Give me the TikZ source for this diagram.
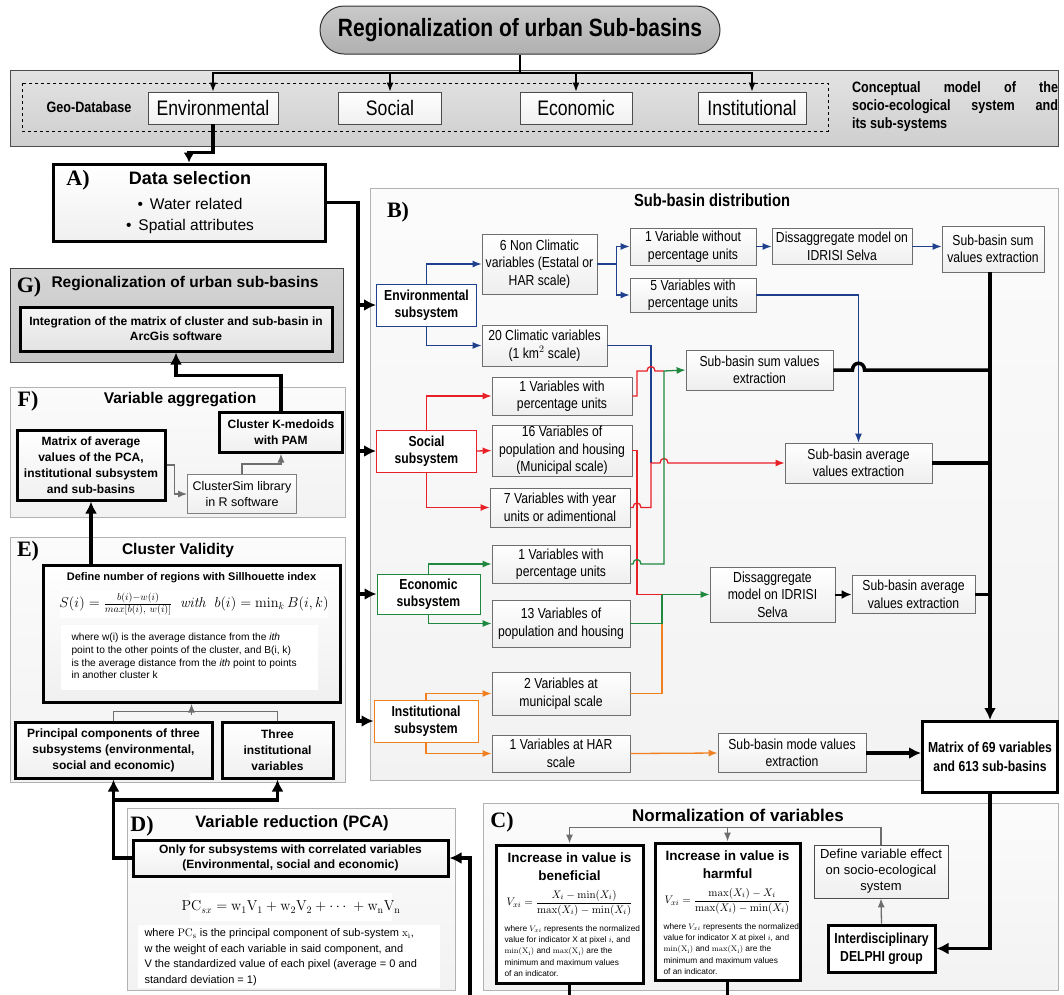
\documentclass[tikz,border=0pt]{standalone}
\usepackage{amsmath}
\usepackage[no-math]{fontspec}
\setmainfont{Liberation Sans}
\newfontfamily\narrowsf[FakeStretch=0.84]{Liberation Sans}
\newfontfamily\labelrm{Liberation Serif}
\usetikzlibrary{arrows.meta}
\definecolor{envblue}{RGB}{31,64,140}
\definecolor{socred}{RGB}{232,32,40}
\definecolor{ecogreen}{RGB}{30,136,62}
\definecolor{insorange}{RGB}{240,128,32}
\definecolor{linegray}{RGB}{110,110,110}
% small and large line hops
\newcommand{\jump}[2]{-- (#1-4,#2) .. controls (#1-4,#2-6) and (#1+4,#2-6) .. (#1+4,#2)}
\newcommand{\bigjump}[2]{-- (#1-6,#2) .. controls (#1-6,#2-9) and (#1+6,#2-9) .. (#1+6,#2)}

\begin{document}
\begin{tikzpicture}[x=1pt, y=-1pt, >={Latex[length=9pt,width=7pt]},
  box/.style={draw=linegray, line width=0.8pt, top color=white, bottom color=gray!13, align=center, inner sep=1pt, font=\narrowsf\fontsize{14.5}{17.5}\selectfont},
  topbox/.style={draw=gray!60!black, line width=0.8pt, top color=white, bottom color=gray!12, minimum height=32pt, font=\narrowsf\fontsize{21}{24}\selectfont},
  subsys/.style={draw=#1, line width=1pt, fill=white, align=center, minimum width=100pt, minimum height=42pt, font=\narrowsf\bfseries\fontsize{14.5}{17}\selectfont},
  heavy/.style={draw=black, line width=3pt, top color=white, bottom color=gray!12, align=center, inner sep=1pt, font=\bfseries\fontsize{12}{16}\selectfont},
  heavyw/.style={heavy, top color=white, bottom color=white},
  panel/.style={draw=gray!60, line width=0.8pt, top color=gray!3, bottom color=gray!10},
  lab/.style={font=\labelrm\bfseries\fontsize{22}{22}\selectfont},
  ttl/.style={font=\bfseries\fontsize{15.5}{18}\selectfont},
  blk/.style={draw=black, line width=3.5pt},
  blkarrow/.style={blk, -{Latex[length=12pt,width=12pt]}},
  kline/.style={draw=black, line width=2pt, -{Latex[length=10pt,width=9pt]}},
  gyline/.style={draw=linegray, line width=1.3pt},
  blline/.style={draw=envblue, line width=1.3pt},
  rdline/.style={draw=socred, line width=1.3pt},
  grline/.style={draw=ecogreen, line width=1.3pt},
  orline/.style={draw=insorange, line width=1.3pt}]
  \useasboundingbox (0,0) rectangle (1064,994);

  % Title and conceptual model
  \draw[top color=gray!22, bottom color=gray!38, draw=gray!60!black, line width=0.8pt] (10,70) rectangle (1058,146);
  \draw[dashed, line width=0.7pt] (22,83) rectangle (828,131);
  \node[draw=black!80, line width=1pt, top color=gray!42, bottom color=gray!62, rounded corners=24pt, minimum width=400pt, minimum height=48pt, font=\narrowsf\bfseries\fontsize{25}{28}\selectfont] (title) at (520,30) {Regionalization of urban Sub-basins};
  \node[font=\narrowsf\bfseries\fontsize{15}{17}\selectfont] (geodb) at (89,107) {Geo-Database};
  \node[topbox, minimum width=130pt] (envT) at (213,108) {Environmental};
  \node[topbox, minimum width=103pt] (socT) at (390,108) {Social};
  \node[topbox, minimum width=112pt] (ecoT) at (576,108) {Economic};
  \node[topbox, minimum width=108pt] (insT) at (752,108) {Institutional};
  \node[text width=206pt, align=justify, font=\narrowsf\bfseries\fontsize{15}{18}\selectfont] (concept) at (955,107) {Conceptual model of the\linebreak socio-ecological system and\linebreak its sub-systems};
  \coordinate (tj) at (520,73);
  \draw[line width=1.3pt] (title.south) -- (tj);
  \foreach \n in {envT,socT,ecoT,insT}
    \draw[line width=1.3pt, ->] (tj) -| (\n.north);

  % A) Data selection
  \node[heavy, minimum width=272pt, minimum height=77pt] (dataA) at (189,202.5) {};
  \node[lab] (labA) at (78,180) {A)};
  \node[font=\bfseries\fontsize{18}{20}\selectfont] (dsel) at (190,178) {Data selection};
  \node[align=center, font=\fontsize{15.5}{21}\selectfont] (dlist) at (190,216) {\textbullet\hspace{7pt}Water related\\\textbullet\hspace{7pt}Spatial attributes};
  \draw[blkarrow, -{Latex[length=10pt,width=11pt]}] (envT.south) -- ++(0,28) -| (dataA.north);

  % G) Regionalization
  \draw[draw=gray!50!black, line width=1pt, top color=gray!33, bottom color=gray!45] (10,268) rectangle (343,362);
  \node[lab] (labG) at (29,287) {G)};
  \node[ttl] (gtitle) at (185,284) {Regionalization of urban sub-basins};
  \node[heavy, minimum width=312pt, minimum height=44pt, top color=gray!8, bottom color=gray!22, font=\bfseries\fontsize{12}{15}\selectfont] (gInt) at (176,329) {Integration of the matrix of cluster and sub-basin in\\ArcGis software};

  % F) Variable aggregation
  \draw[panel] (10,387) rectangle (345,517);
  \node[lab] (labF) at (28,401) {F)};
  \node[ttl] (ftitle) at (180,400) {Variable aggregation};
  \node[heavy, minimum width=148pt, minimum height=70pt] (fMat) at (91,465) {Matrix of average\\values of the PCA,\\institutional subsystem\\and sub-basins};
  \node[heavy, minimum width=123pt, minimum height=40pt] (fClu) at (281,432) {Cluster K-medoids\\with PAM};
  \node[box, draw=gray, font=\fontsize{12.5}{16}\selectfont, minimum width=109pt, minimum height=39pt] (fSim) at (242,494) {ClusterSim library\\in R software};
  \draw[gyline, ->] (fMat.east) -- ++(8,0) |- (fSim.west);
  \draw[gyline, ->] (fSim.north) -- ++(0,-10) -| (fClu.south);
  \draw[blkarrow] (fClu.north) -- ++(0,-35) -| (gInt.south);

  % E) Cluster validity
  \draw[panel] (10,537) rectangle (345,782);
  \node[lab] (labE) at (28,551) {E)};
  \node[ttl] (etitle) at (178,550) {Cluster Validity};
  \node[heavy, minimum width=297pt, minimum height=137pt] (eSil) at (191.5,633.5) {};
  \node[font=\bfseries\fontsize{11}{13}\selectfont] (esilT) at (191.5,578) {Define number of regions with Sillhouette index};
  \fill[white] (60,590) rectangle (328,618);
  \node[font=\fontsize{14}{16}\selectfont] (eform) at (194,604) {$S(i)=\frac{b(i)-w(i)}{max[b(i),\ w(i)]}\ \ \mathit{with}\ \ b(i)=\min_k B(i,k)$};
  \fill[white] (61,625) rectangle (318,690);
  \node[anchor=west, align=left, font=\fontsize{10.2}{12.7}\selectfont] (etext) at (68,656) {where w(i) is the average distance from the \textit{ith}\\point to the other points of the cluster, and B(i, k)\\is the average distance from the \textit{ith} point to points\\in another cluster k};
  \node[heavy, minimum width=197pt, minimum height=56pt] (ePC) at (113.5,750) {Principal components of three\\subsystems (environmental,\\social and economic)};
  \node[heavy, minimum width=111pt, minimum height=56pt] (eThree) at (277.5,750) {Three\\institutional\\variables};
  \draw[gyline] (ePC.north) -- ++(0,-9) -| (eThree.north);
  \draw[gyline, ->] ([yshift=-11pt]eSil.south) -- (eSil.south);
  \draw[blkarrow] (eSil.north -| fMat.south) -- (fMat.south);

  % D) Variable reduction
  \draw[panel] (127,808) rectangle (455,990);
  \node[lab] (labD) at (142,826) {D)};
  \node[font=\bfseries\fontsize{16.5}{18}\selectfont] (dtitle) at (292,823) {Variable reduction (PCA)};
  \node[heavy, minimum width=315pt, minimum height=36pt, font=\bfseries\fontsize{12}{15}\selectfont] (dOnly) at (290.5,858) {Only for subsystems with correlated variables\\(Environmental, social and economic)};
  \fill[white] (190,893) rectangle (392,921);
  \node[font=\fontsize{14}{16}\selectfont] (dform) at (291,907) {$\mathrm{PC}_{sx}=\mathrm{w}_1\mathrm{V}_1+\mathrm{w}_2\mathrm{V}_2+\cdots\ +\mathrm{w}_{\mathrm{n}}\mathrm{V}_{\mathrm{n}}$};
  \fill[white] (138,925) rectangle (440,988);
  \node[anchor=west, align=left, font=\fontsize{11}{15.5}\selectfont] (dtext) at (141,957) {where $\mathrm{PC_s}$ is the principal component of sub-system $\mathrm{x_i}$,\\w the weight of each variable in said component, and\\V the standardized value of each pixel (average = 0 and\\standard deviation = 1)};
  \coordinate (dj) at (113.5,800);
  \coordinate (offD) at (470,1000);
  \draw[blkarrow] (dOnly.west) -| (ePC.south);
  \draw[blkarrow] (dj) -| (eThree.south);
  \draw[blkarrow] (offD) |- (dOnly.east);

  % C) Normalization
  \draw[panel] (483,803) rectangle (1058,990);
  \node[lab] (labC) at (502,822) {C)};
  \node[font=\bfseries\fontsize{17}{19}\selectfont] (ctitle) at (738,815) {Normalization of variables};
  \node[heavyw, minimum width=147pt, minimum height=138pt] (cBen) at (569.5,914) {};
  \node[heavyw, minimum width=145pt, minimum height=137pt] (cHarm) at (727.5,911.5) {};
  \node[align=center, font=\bfseries\fontsize{13.5}{18}\selectfont] (cBenT) at (569.5,867) {Increase in value is\\beneficial};
  \node[align=center, font=\bfseries\fontsize{13.5}{18}\selectfont] (cHarmT) at (727.5,865) {Increase in value is\\harmful};
  \node[font=\fontsize{11}{13}\selectfont] (cBenF) at (569.5,903) {$V_{xi}=\dfrac{X_i-\min(X_i)}{\max(X_i)-\min(X_i)}$};
  \node[font=\fontsize{11}{13}\selectfont] (cHarmF) at (727.5,901) {$V_{xi}=\dfrac{\max(X_i)-X_i}{\max(X_i)-\min(X_i)}$};
  \node[anchor=west, align=left, font=\fontsize{8.3}{11.3}\selectfont] (cBenX) at (501,951) {where $V_{xi}$ represents the normalized\\value for indicator X at pixel $i$, and\\$\min(\mathrm{X_i})$ and $\max(\mathrm{X_i})$ are the\\minimum and maximum values\\of an indicator.};
  \node[anchor=west, align=left, font=\fontsize{8.3}{11.3}\selectfont] (cHarmX) at (660,949) {where $V_{xi}$ represents the normalized\\value for indicator X at pixel $i$, and\\$\min(\mathrm{X_i})$ and $\max(\mathrm{X_i})$ are the\\minimum and maximum values\\of an indicator.};
  \node[box, draw=gray!60!black, minimum width=134pt, minimum height=53pt, font=\fontsize{13}{16}\selectfont] (cDef) at (881,871.5) {Define variable effect\\on socio-ecological\\system};
  \node[heavyw, minimum width=107pt, minimum height=47pt, font=\narrowsf\bfseries\fontsize{14.5}{18}\selectfont] (cDel) at (881.5,948.5) {Interdisciplinary\\DELPHI group};
  \draw[gyline, ->] (cDef.north) -- ++(0,-17) -| (cBen.north);
  \draw[gyline, ->] ([yshift=15pt]cHarm.north) -- (cHarm.north);
  \draw[gyline, ->] (cDel.north) -- (cDef.south);
  \draw[blk] (cBen.south) -- ++(0,15);
  \draw[blk] (cHarm.south) -- ++(0,18);

  % B) Sub-basin distribution
  \draw[panel] (370,188) rectangle (1058,780);
  \node[lab] (labB) at (398,212) {B)};
  \node[font=\narrowsf\bfseries\fontsize{17.5}{19}\selectfont] (btitle) at (712,200) {Sub-basin distribution};
  \node[subsys=envblue] (bEnv) at (426.5,305) {Environmental\\subsystem};
  \node[subsys=socred] (bSoc) at (426.5,451) {Social\\subsystem};
  \node[subsys=ecogreen, minimum width=103pt, minimum height=40pt] (bEco) at (428.5,594) {Economic\\subsystem};
  \node[subsys=insorange, minimum width=104pt] (bInst) at (426,721) {Institutional\\subsystem};
  \node[box, minimum width=115pt, minimum height=60pt] (c6) at (539.5,264) {6 Non Climatic\\variables (Estatal or\\HAR scale)};
  \node[box, minimum width=126pt, minimum height=37pt] (c1w) at (693,246.5) {1 Variable without\\percentage units};
  \node[box, minimum width=126pt, minimum height=34pt] (c5) at (693,295) {5 Variables with\\percentage units};
  \node[box, minimum width=140pt, minimum height=36pt] (cDis1) at (842,246.5) {Dissaggregate model on\\IDRISI Selva};
  \node[box, minimum width=102pt, minimum height=46pt] (cSum1) at (993,249) {Sub-basin sum\\values extraction};
  \node[box, minimum width=125pt, minimum height=41pt] (c20) at (544.5,345.5) {20 Climatic variables\\(1 km$^2$ scale)};
  \node[box, minimum width=147pt, minimum height=40pt] (cSum2) at (759.5,370) {Sub-basin sum values\\extraction};
  \node[box, minimum width=140pt, minimum height=38pt] (cS1) at (562,396) {1 Variables with\\percentage units};
  \node[box, minimum width=140pt, minimum height=51pt] (c16) at (562,450.5) {16 Variables of\\population and housing\\(Municipal scale)};
  \node[box, minimum width=140pt, minimum height=39pt] (c7) at (560,507.5) {7 Variables with year\\units or adimentional};
  \node[box, minimum width=147pt, minimum height=40pt] (cAvg1) at (858.5,463) {Sub-basin average\\values extraction};
  \node[box, minimum width=138pt, minimum height=38pt] (cE1) at (561,564) {1 Variables with\\percentage units};
  \node[box, minimum width=138pt, minimum height=47pt] (c13) at (561,623.5) {13 Variables of\\population and housing};
  \node[box, minimum width=125pt, minimum height=55pt] (cDis2) at (772.5,594.5) {Dissaggregate\\model on IDRISI\\Selva};
  \node[box, minimum width=123pt, minimum height=38pt] (cAvg2) at (913.5,594.5) {Sub-basin average\\values extraction};
  \node[box, minimum width=138pt, minimum height=43pt] (c2) at (561,693.5) {2 Variables at\\municipal scale};
  \node[box, minimum width=138pt, minimum height=37pt] (cH1) at (561,753.5) {1 Variables at HAR\\scale};
  \node[box, minimum width=148pt, minimum height=39pt] (cMode) at (792,753) {Sub-basin mode values\\extraction};
  \node[heavyw, minimum width=135pt, minimum height=71pt, font=\narrowsf\bfseries\fontsize{14.5}{19}\selectfont] (cMat) at (990,757) {Matrix of 69 variables\\and 613 sub-basins};

  % A to the four subsystems
  \coordinate (busA) at (358,202.5);
  \draw[blkarrow] (dataA.east) -- (busA) |- (bInst.west);
  \foreach \n in {bEnv,bSoc,bEco}
    \draw[blkarrow] (busA |- \n.west) -- (\n.west);

  % Environmental branch
  \coordinate (mA) at (651,463);
  \draw[blline, ->] (bEnv.north) |- (c6.west);
  \draw[blline, ->] (bEnv.south) |- (c20.west);
  \draw[blline] (c6.east) -- ++(19,0) coordinate (j6);
  \draw[blline, ->] (j6) |- (c1w.west);
  \draw[blline, ->] (j6) |- (c5.west);
  \draw[blline, ->] (c1w.east) -- (cDis1.west);
  \draw[blline, ->] (cDis1.east) -- (cSum1.west |- cDis1.east);
  \draw[blline, ->] (c5.east) -| (cAvg1.north);
  \draw[blline] (c20.east) -| (mA);

  % Social branch
  \coordinate (mS) at (664,371);
  \coordinate (mD) at (662,594.5);
  \coordinate (mE) at (662,623.5);
  \draw[rdline, ->] (bSoc.north) |- (cS1.west);
  \draw[rdline, ->] (bSoc.east) -- (c16.west);
  \draw[rdline, ->] (bSoc.south) |- (c7.west);
  \draw[rdline] (cS1.east) -- (637,396) -- (637,371) \jump{651}{371} -- (mS);
  \draw[rdline] (c16.east) -- (637,450.5) -- (637,594.5) -- (mD);
  \draw[rdline, ->] (c7.east) \jump{637}{507.5} -- (651,507.5) -- (mA) \jump{664}{463} -- (cAvg1.west);

  % Economic branch
  \draw[grline, ->] (bEco.north) |- (cE1.west);
  \draw[grline, ->] (bEco.south) |- (c13.west);
  \draw[grline] (cE1.east) \jump{637}{564} -- (664,564) -- (mS);
  \draw[grline, ->] (mS) -- (cSum2.west);
  \draw[grline] (c13.east) -- (mE) -- (mD);
  \draw[grline, ->] (mD) -- (cDis2.west);
  \draw[kline] (cDis2.east) -- (cAvg2.west);

  % Institutional branch
  \draw[orline, ->] (bInst.north) |- (c2.west);
  \draw[orline, ->] (bInst.south) |- (cH1.west);
  \draw[orline] (c2.east) -| (mE);
  \draw[orline, ->] (cH1.east) -- (cMode.west);
  \draw[blkarrow] (cMode.east) -- (cMat.west |- cMode.east);

  % Collecting bus to the matrix
  \draw[blkarrow] (cMat.north |- cSum1.south) -- (cMat.north);
  \draw[blk] (cSum2.east) \bigjump{858.5}{370} -- (cMat.north |- cSum2.east);
  \draw[blk] (cAvg1.east) -- (cMat.north |- cAvg1.east);
  \draw[blk] (cAvg2.east) -- (cMat.north |- cAvg2.east);
  \draw[blkarrow] (cMat.south) |- (cDel.east);
\end{tikzpicture}
\end{document}
